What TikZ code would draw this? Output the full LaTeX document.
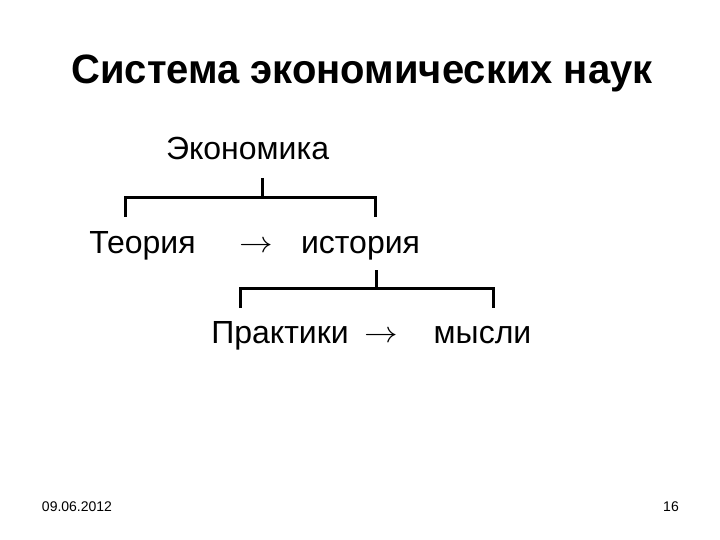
\documentclass[tikz,border=0pt]{standalone}
\usepackage{fontspec}
\usepackage{graphicx}
\setmainfont{Liberation Sans}
\newcommand{\myarrow}{\scalebox{1.35}[1.2]{\(\rightarrow\)}}
\begin{document}
\begin{tikzpicture}[x=1pt,y=-1pt,
  lbl/.style={inner sep=0pt, anchor=base, font=\fontsize{32}{38}\selectfont},
  br/.style={line width=3pt, line cap=butt},
  foot/.style={inner sep=0pt, font=\fontsize{14}{16}\selectfont}]
\useasboundingbox[fill=white] (0,0) rectangle (720,540);
\node[inner sep=0pt, anchor=base, font=\bfseries\fontsize{41}{48}\selectfont] (title) at (362,84) {\scalebox{0.975}[1]{Система экономических наук}};
\node[lbl] (eco) at (247.5,160) {Экономика};
\node[lbl] (teor) at (142.5,253) {Теория};
\node[lbl] (arr1) at (256,252) {\myarrow};
\node[lbl] (ist) at (360.5,253) {история};
\node[lbl] (prak) at (280,343) {Практики};
\node[lbl] (arr2) at (381,342) {\myarrow};
\node[lbl] (mysl) at (482.5,343) {мысли};
\node[foot] (date) at (77,507) {09.06.2012};
\node[foot] (num) at (671,507) {16};
% bracket 1
\coordinate (t1) at (262,178);
\coordinate (j1) at (262,198);
\coordinate (l1) at (125,198);
\coordinate (r1) at (375,198);
\coordinate (lb1) at (125,217);
\coordinate (rb1) at (375,217);
\draw[br] (t1) -- (j1);
\draw[br] (lb1) -- (l1) -- (r1) -- (rb1);
% bracket 2
\coordinate (t2) at (376,270);
\coordinate (j2) at (376,288);
\coordinate (l2) at (240,288);
\coordinate (r2) at (493,288);
\coordinate (lb2) at (240,308);
\coordinate (rb2) at (493,308);
\draw[br] (t2) -- (j2);
\draw[br] (lb2) -- (l2) -- (r2) -- (rb2);
\end{tikzpicture}
\end{document}
